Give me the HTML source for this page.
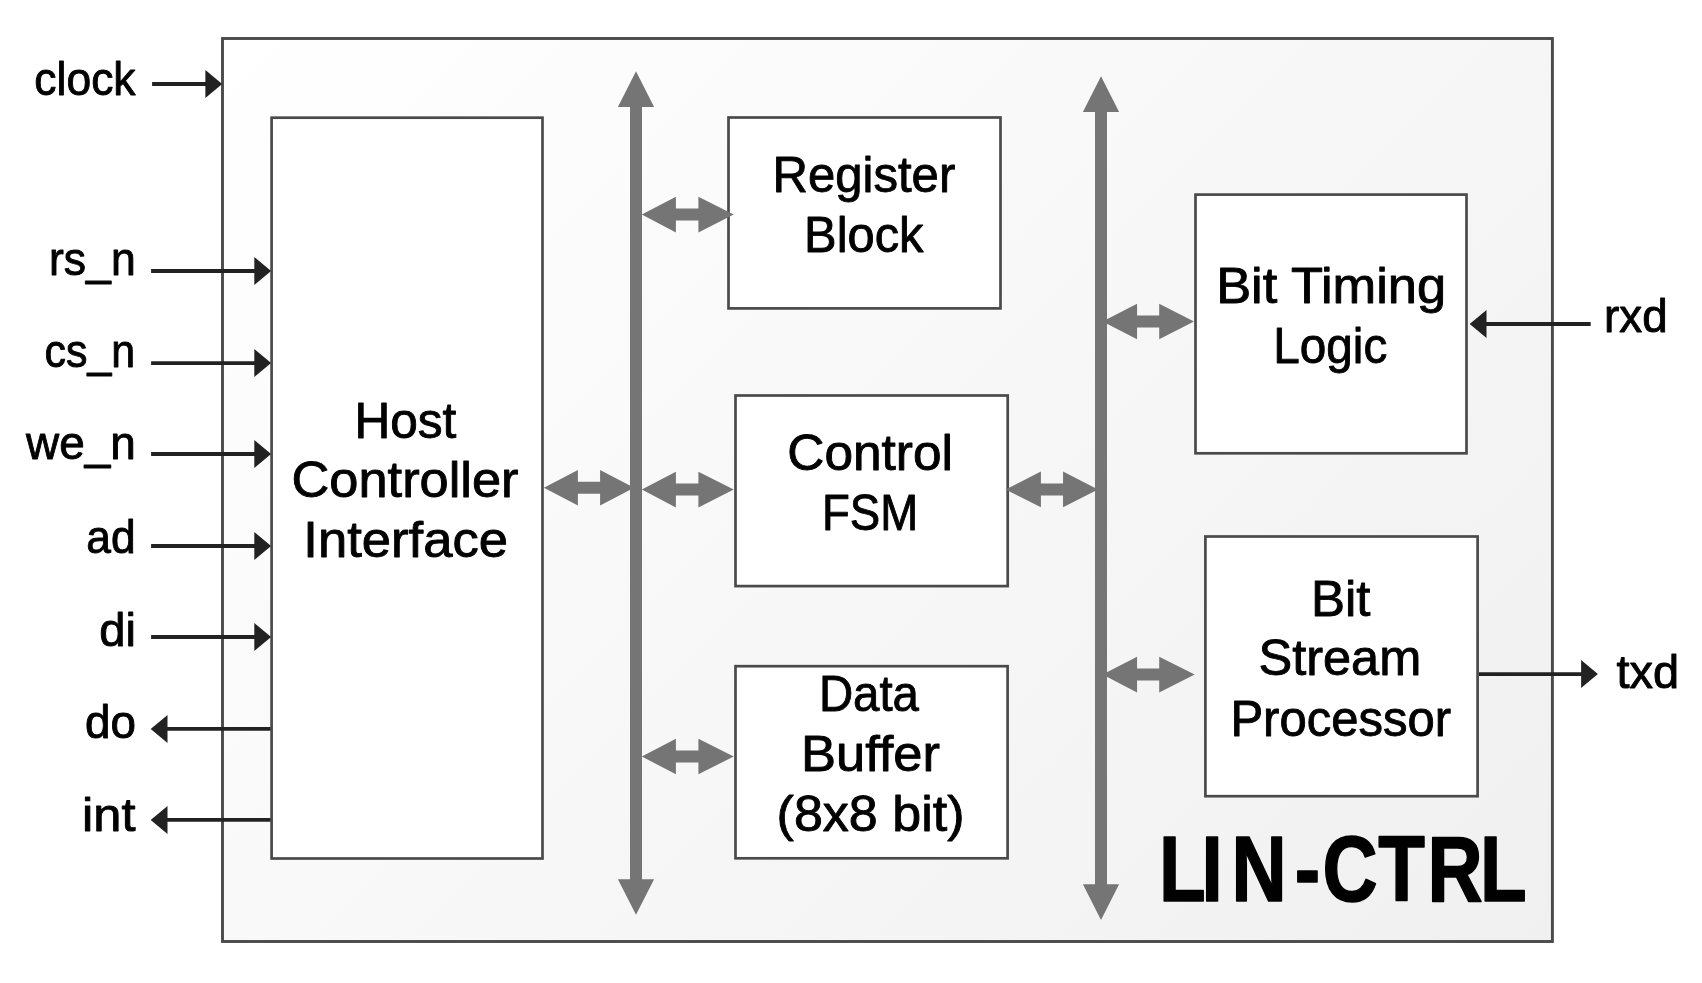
<!DOCTYPE html>
<html lang="en">
<head>
<meta charset="utf-8">
<title>LIN-CTRL block diagram</title>
<style>
html,body{margin:0;padding:0;background:#ffffff;}
body{width:1702px;height:983px;overflow:hidden;}
svg{display:block;}
text{font-family:"Liberation Sans",sans-serif;fill:#000000;}
</style>
</head>
<body>
<svg width="1702" height="983" viewBox="0 0 1702 983">
<defs><linearGradient id="bg" gradientUnits="userSpaceOnUse" x1="222.5" y1="38.5" x2="1339" y2="1155"><stop offset="0" stop-color="#ffffff"/><stop offset="1" stop-color="#f0f0f0"/></linearGradient></defs>
<rect x="0" y="0" width="1702" height="983" fill="#ffffff"/>
<!-- outer LIN-CTRL container -->
<rect x="222.50" y="38.50" width="1329.90" height="903.00" fill="url(#bg)" stroke="#4a4a4a" stroke-width="2.9"/>
<!-- functional blocks -->
<rect x="271.60" y="117.70" width="270.90" height="740.80" fill="#ffffff" stroke="#4a4a4a" stroke-width="2.7"/>
<rect x="728.50" y="117.50" width="272.00" height="190.90" fill="#ffffff" stroke="#4a4a4a" stroke-width="2.7"/>
<rect x="735.50" y="395.50" width="272.20" height="190.60" fill="#ffffff" stroke="#4a4a4a" stroke-width="2.7"/>
<rect x="735.50" y="666.20" width="272.10" height="192.10" fill="#ffffff" stroke="#4a4a4a" stroke-width="2.7"/>
<rect x="1195.50" y="194.60" width="271.00" height="258.70" fill="#ffffff" stroke="#4a4a4a" stroke-width="2.7"/>
<rect x="1205.40" y="536.50" width="272.20" height="259.70" fill="#ffffff" stroke="#4a4a4a" stroke-width="2.7"/>
<!-- internal buses -->
<polygon points="636.00,71.30 654.10,106.90 642.00,106.90 642.00,879.20 654.10,879.20 636.00,914.80 617.90,879.20 630.00,879.20 630.00,106.90 617.90,106.90" fill="#757575"/>
<polygon points="1101.00,76.30 1119.10,111.90 1107.00,111.90 1107.00,884.30 1119.10,884.30 1101.00,919.90 1082.90,884.30 1095.00,884.30 1095.00,111.90 1082.90,111.90" fill="#757575"/>
<!-- block to bus connectors -->
<polygon points="543.90,487.80 577.90,470.00 577.90,481.80 600.10,481.80 600.10,470.00 634.10,487.80 600.10,505.60 600.10,493.80 577.90,493.80 577.90,505.60" fill="#757575"/>
<polygon points="641.80,214.60 675.90,196.80 675.90,208.60 698.40,208.60 698.40,196.80 733.70,214.60 698.40,232.40 698.40,220.60 675.90,220.60 675.90,232.40" fill="#757575"/>
<polygon points="641.80,489.60 675.90,471.80 675.90,483.60 698.40,483.60 698.40,471.80 733.70,489.60 698.40,507.40 698.40,495.60 675.90,495.60 675.90,507.40" fill="#757575"/>
<polygon points="641.80,756.50 675.90,738.70 675.90,750.50 698.40,750.50 698.40,738.70 733.70,756.50 698.40,774.30 698.40,762.50 675.90,762.50 675.90,774.30" fill="#757575"/>
<polygon points="1005.60,489.40 1040.90,471.60 1040.90,483.40 1063.05,483.40 1063.05,471.60 1098.00,489.40 1063.05,507.20 1063.05,495.40 1040.90,495.40 1040.90,507.20" fill="#757575"/>
<polygon points="1102.50,321.50 1137.06,303.70 1137.06,315.50 1159.20,315.50 1159.20,303.70 1194.00,321.50 1159.20,339.30 1159.20,327.50 1137.06,327.50 1137.06,339.30" fill="#757575"/>
<polygon points="1102.50,674.60 1137.06,656.80 1137.06,668.60 1159.20,668.60 1159.20,656.80 1194.70,674.60 1159.20,692.40 1159.20,680.60 1137.06,680.60 1137.06,692.40" fill="#757575"/>
<!-- external signals -->
<line x1="152.10" y1="84.00" x2="206.40" y2="84.00" stroke="#222222" stroke-width="3.8"/><polygon points="222.20,84.00 205.40,70.00 205.40,98.00" fill="#222222"/>
<line x1="151.10" y1="271.00" x2="255.30" y2="271.00" stroke="#222222" stroke-width="3.8"/><polygon points="271.10,271.00 254.30,257.00 254.30,285.00" fill="#222222"/>
<line x1="151.10" y1="363.10" x2="255.30" y2="363.10" stroke="#222222" stroke-width="3.8"/><polygon points="271.10,363.10 254.30,349.10 254.30,377.10" fill="#222222"/>
<line x1="151.10" y1="454.00" x2="255.30" y2="454.00" stroke="#222222" stroke-width="3.8"/><polygon points="271.10,454.00 254.30,440.00 254.30,468.00" fill="#222222"/>
<line x1="151.10" y1="546.00" x2="255.30" y2="546.00" stroke="#222222" stroke-width="3.8"/><polygon points="271.10,546.00 254.30,532.00 254.30,560.00" fill="#222222"/>
<line x1="151.10" y1="637.00" x2="255.30" y2="637.00" stroke="#222222" stroke-width="3.8"/><polygon points="271.10,637.00 254.30,623.00 254.30,651.00" fill="#222222"/>
<line x1="270.60" y1="728.90" x2="166.50" y2="728.90" stroke="#222222" stroke-width="3.8"/><polygon points="150.70,728.90 167.50,714.90 167.50,742.90" fill="#222222"/>
<line x1="270.60" y1="819.90" x2="166.50" y2="819.90" stroke="#222222" stroke-width="3.8"/><polygon points="150.70,819.90 167.50,805.90 167.50,833.90" fill="#222222"/>
<line x1="1590.70" y1="324.00" x2="1485.50" y2="324.00" stroke="#222222" stroke-width="3.8"/><polygon points="1469.70,324.00 1486.50,310.00 1486.50,338.00" fill="#222222"/>
<line x1="1479.00" y1="674.10" x2="1582.10" y2="674.10" stroke="#222222" stroke-width="3.8"/><polygon points="1597.90,674.10 1581.10,660.10 1581.10,688.10" fill="#222222"/>
<!-- labels -->
<g id="labels" opacity="0.999">
<text id="t-clock" x="34.33" y="94.50" font-size="45.5" stroke="#000000" stroke-width="0.9" stroke-linejoin="round" textLength="101.24" lengthAdjust="spacingAndGlyphs">clock</text>
<text id="t-rs_n" x="49.04" y="274.50" font-size="45.5" stroke="#000000" stroke-width="0.9" stroke-linejoin="round" textLength="86.62" lengthAdjust="spacingAndGlyphs">rs_n</text>
<text id="t-cs_n" x="44.48" y="367.20" font-size="45.5" stroke="#000000" stroke-width="0.9" stroke-linejoin="round" textLength="90.67" lengthAdjust="spacingAndGlyphs">cs_n</text>
<text id="t-we_n" x="26.03" y="459.40" font-size="45.5" stroke="#000000" stroke-width="0.9" stroke-linejoin="round" textLength="109.79" lengthAdjust="spacingAndGlyphs">we_n</text>
<text id="t-ad" x="86.35" y="552.90" font-size="45.5" stroke="#000000" stroke-width="0.9" stroke-linejoin="round" textLength="49.34" lengthAdjust="spacingAndGlyphs">ad</text>
<text id="t-di" x="99.36" y="645.60" font-size="45.5" stroke="#000000" stroke-width="0.9" stroke-linejoin="round" textLength="36.67" lengthAdjust="spacingAndGlyphs">di</text>
<text id="t-do" x="84.99" y="738.10" font-size="45.5" stroke="#000000" stroke-width="0.9" stroke-linejoin="round" textLength="50.94" lengthAdjust="spacingAndGlyphs">do</text>
<text id="t-int" x="82.12" y="830.50" font-size="45.5" stroke="#000000" stroke-width="0.9" stroke-linejoin="round" textLength="53.43" lengthAdjust="spacingAndGlyphs">int</text>
<text id="t-rxd" x="1604.03" y="332.00" font-size="45.5" stroke="#000000" stroke-width="0.9" stroke-linejoin="round" textLength="63.57" lengthAdjust="spacingAndGlyphs">rxd</text>
<text id="t-txd" x="1616.43" y="687.50" font-size="45.5" stroke="#000000" stroke-width="0.9" stroke-linejoin="round" textLength="62.68" lengthAdjust="spacingAndGlyphs">txd</text>
<text id="t-host1" x="354.39" y="437.70" font-size="50" stroke="#000000" stroke-width="0.9" stroke-linejoin="round" textLength="102.03" lengthAdjust="spacingAndGlyphs">Host</text>
<text id="t-host2" x="291.51" y="497.20" font-size="50" stroke="#000000" stroke-width="0.9" stroke-linejoin="round" textLength="227.06" lengthAdjust="spacingAndGlyphs">Controller</text>
<text id="t-host3" x="303.27" y="556.70" font-size="50" stroke="#000000" stroke-width="0.9" stroke-linejoin="round" textLength="204.72" lengthAdjust="spacingAndGlyphs">Interface</text>
<text id="t-reg1" x="772.44" y="192.40" font-size="50" stroke="#000000" stroke-width="0.9" stroke-linejoin="round" textLength="182.81" lengthAdjust="spacingAndGlyphs">Register</text>
<text id="t-reg2" x="804.09" y="252.30" font-size="50" stroke="#000000" stroke-width="0.9" stroke-linejoin="round" textLength="119.45" lengthAdjust="spacingAndGlyphs">Block</text>
<text id="t-fsm1" x="787.26" y="470.00" font-size="50" stroke="#000000" stroke-width="0.9" stroke-linejoin="round" textLength="165.73" lengthAdjust="spacingAndGlyphs">Control</text>
<text id="t-fsm2" x="821.99" y="530.20" font-size="50" stroke="#000000" stroke-width="0.9" stroke-linejoin="round" textLength="96.21" lengthAdjust="spacingAndGlyphs">FSM</text>
<text id="t-buf1" x="818.93" y="711.40" font-size="50" stroke="#000000" stroke-width="0.9" stroke-linejoin="round" textLength="100.03" lengthAdjust="spacingAndGlyphs">Data</text>
<text id="t-buf2" x="801.07" y="770.80" font-size="50" stroke="#000000" stroke-width="0.9" stroke-linejoin="round" textLength="138.93" lengthAdjust="spacingAndGlyphs">Buffer</text>
<text id="t-buf3" x="776.59" y="831.40" font-size="50" stroke="#000000" stroke-width="0.9" stroke-linejoin="round" textLength="187.94" lengthAdjust="spacingAndGlyphs">(8x8 bit)</text>
<text id="t-btl1" x="1216.17" y="303.10" font-size="50" stroke="#000000" stroke-width="0.9" stroke-linejoin="round" textLength="229.96" lengthAdjust="spacingAndGlyphs">Bit Timing</text>
<text id="t-btl2" x="1273.25" y="363.10" font-size="50" stroke="#000000" stroke-width="0.9" stroke-linejoin="round" textLength="114.08" lengthAdjust="spacingAndGlyphs">Logic</text>
<text id="t-bsp1" x="1311.02" y="616.30" font-size="50" stroke="#000000" stroke-width="0.9" stroke-linejoin="round" textLength="59.46" lengthAdjust="spacingAndGlyphs">Bit</text>
<text id="t-bsp2" x="1258.50" y="675.30" font-size="50" stroke="#000000" stroke-width="0.9" stroke-linejoin="round" textLength="162.74" lengthAdjust="spacingAndGlyphs">Stream</text>
<text id="t-bsp3" x="1230.41" y="736.00" font-size="50" stroke="#000000" stroke-width="0.9" stroke-linejoin="round" textLength="220.67" lengthAdjust="spacingAndGlyphs">Processor</text>
<text id="t-lin" transform="scale(0.83 1)" x="1396.51 1447.71 1483.86 1559.88 1593.37 1660.66 1719.88 1783.13" y="900.80" font-size="92" font-weight="700" stroke="#000000" stroke-width="1.6" stroke-linejoin="round">LIN-CTRL</text>
</g>
</svg>
</body>
</html>
